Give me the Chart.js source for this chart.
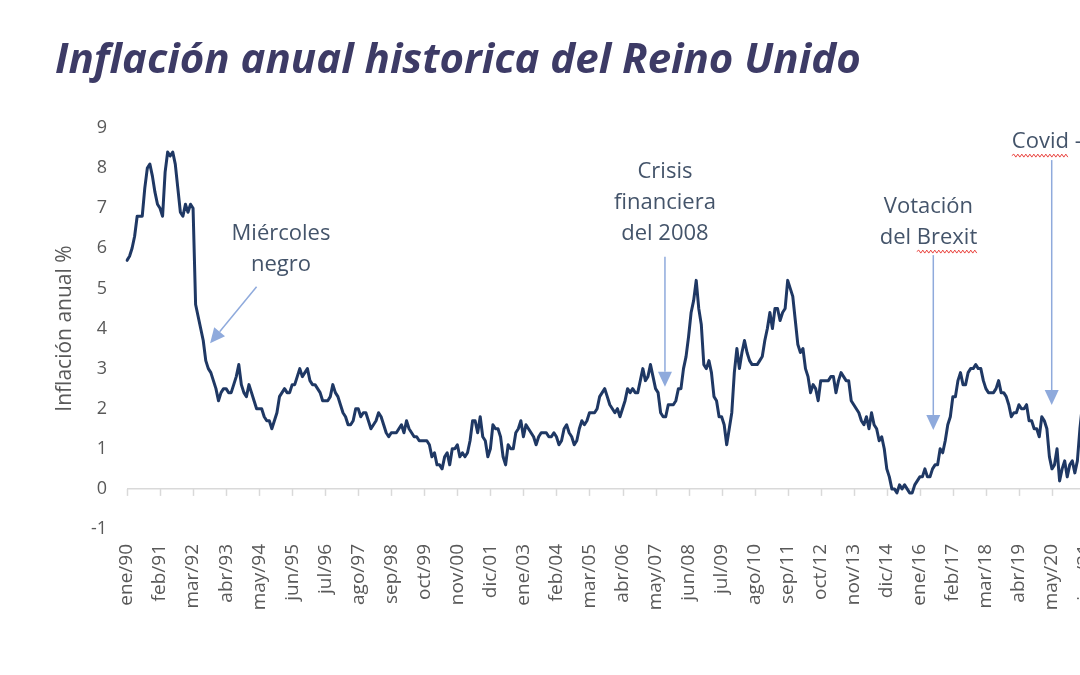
<!DOCTYPE html>
<html>
<head>
<meta charset="utf-8">
<script src="https://cdn.jsdelivr.net/npm/chart.js@4.4.1/dist/chart.umd.min.js"></script>
<style>
  html, body { margin: 0; padding: 0; background: #fff; overflow: hidden; width: 1080px; height: 675px; }
  #wrap { width: 1135px; height: 675px; }
</style>
</head>
<body>
<div id="wrap"><canvas id="grafico" width="1135" height="675"></canvas></div>
<script>
// ================= DATOS =================
// Inflación anual (IPC Reino Unido, %), mensual desde ene/90
const MESES = ['ene','feb','mar','abr','may','jun','jul','ago','sep','oct','nov','dic'];
const ANIO_INICIO = 1990;

const CPI_1990S = [
  5.7, 5.8, 6.0, 6.3, 6.8, 6.8, 6.8, 7.5, 8.0, 8.1, 7.8, 7.4,
  7.1, 7.0, 6.8, 7.9, 8.4, 8.3, 8.4, 8.1, 7.5, 6.9, 6.8, 7.1,
  6.9, 7.1, 7.0, 4.6, 4.3, 4.0, 3.7, 3.2, 3.0, 2.9, 2.7, 2.5,
  2.2, 2.4, 2.5, 2.5, 2.4, 2.4, 2.6, 2.8, 3.1, 2.6, 2.4, 2.3,
  2.6, 2.4, 2.2, 2.0, 2.0, 2.0, 1.8, 1.7, 1.7, 1.5, 1.7, 1.9,
  2.3, 2.4, 2.5, 2.4, 2.4, 2.6, 2.6, 2.8, 3.0, 2.8, 2.9, 3.0,
  2.7, 2.6, 2.6, 2.5, 2.4, 2.2, 2.2, 2.2, 2.3, 2.6, 2.4, 2.3,
  2.1, 1.9, 1.8, 1.6, 1.6, 1.7, 2.0, 2.0, 1.8, 1.9, 1.9, 1.7,
  1.5, 1.6, 1.7, 1.9, 1.8, 1.6, 1.4, 1.3, 1.4, 1.4, 1.4, 1.5,
  1.6, 1.4, 1.7, 1.5, 1.4, 1.3, 1.3, 1.2, 1.2, 1.2, 1.2, 1.1
];
const CPI_2000S = [
  0.8, 0.9, 0.6, 0.6, 0.5, 0.8, 0.9, 0.6, 1.0, 1.0, 1.1, 0.8,
  0.9, 0.8, 0.9, 1.2, 1.7, 1.7, 1.4, 1.8, 1.3, 1.2, 0.8, 1.0,
  1.6, 1.5, 1.5, 1.3, 0.8, 0.6, 1.1, 1.0, 1.0, 1.4, 1.5, 1.7,
  1.3, 1.6, 1.5, 1.4, 1.3, 1.1, 1.3, 1.4, 1.4, 1.4, 1.3, 1.3,
  1.4, 1.3, 1.1, 1.2, 1.5, 1.6, 1.4, 1.3, 1.1, 1.2, 1.5, 1.7,
  1.6, 1.7, 1.9, 1.9, 1.9, 2.0, 2.3, 2.4, 2.5, 2.3, 2.1, 2.0,
  1.9, 2.0, 1.8, 2.0, 2.2, 2.5, 2.4, 2.5, 2.4, 2.4, 2.7, 3.0,
  2.7, 2.8, 3.1, 2.8, 2.5, 2.4, 1.9, 1.8, 1.8, 2.1, 2.1, 2.1,
  2.2, 2.5, 2.5, 3.0, 3.3, 3.8, 4.4, 4.7, 5.2, 4.5, 4.1, 3.1,
  3.0, 3.2, 2.9, 2.3, 2.2, 1.8, 1.8, 1.6, 1.1, 1.5, 1.9, 2.9
];
const CPI_2010S = [
  3.5, 3.0, 3.4, 3.7, 3.4, 3.2, 3.1, 3.1, 3.1, 3.2, 3.3, 3.7,
  4.0, 4.4, 4.0, 4.5, 4.5, 4.2, 4.4, 4.5, 5.2, 5.0, 4.8, 4.2,
  3.6, 3.4, 3.5, 3.0, 2.8, 2.4, 2.6, 2.5, 2.2, 2.7, 2.7, 2.7,
  2.7, 2.8, 2.8, 2.4, 2.7, 2.9, 2.8, 2.7, 2.7, 2.2, 2.1, 2.0,
  1.9, 1.7, 1.6, 1.8, 1.5, 1.9, 1.6, 1.5, 1.2, 1.3, 1.0, 0.5,
  0.3, 0.0, 0.0, -0.1, 0.1, 0.0, 0.1, 0.0, -0.1, -0.1, 0.1, 0.2,
  0.3, 0.3, 0.5, 0.3, 0.3, 0.5, 0.6, 0.6, 1.0, 0.9, 1.2, 1.6,
  1.8, 2.3, 2.3, 2.7, 2.9, 2.6, 2.6, 2.9, 3.0, 3.0, 3.1, 3.0,
  3.0, 2.7, 2.5, 2.4, 2.4, 2.4, 2.5, 2.7, 2.4, 2.4, 2.3, 2.1,
  1.8, 1.9, 1.9, 2.1, 2.0, 2.0, 2.1, 1.7, 1.7, 1.5, 1.5, 1.3
];
const CPI_2020S = [
  1.8, 1.7, 1.5, 0.8, 0.5, 0.6, 1.0, 0.2, 0.5, 0.7, 0.3, 0.6,
  0.7, 0.4, 0.7, 1.5, 2.1, 2.5
];

const inflacion = [...CPI_1990S, ...CPI_2000S, ...CPI_2010S, ...CPI_2020S];

// etiquetas mensuales "ene/90", "feb/90", ...
const etiquetas = inflacion.map((_, i) => {
  const anio = (ANIO_INICIO + Math.floor(i / 12)) % 100;
  return MESES[i % 12] + '/' + String(anio).padStart(2, '0');
});
const SALTO_ETIQUETA = 13; // Excel muestra una etiqueta cada 13 meses

// Anotaciones: posiciones en coordenadas de datos (índice de mes, valor %)
const NOTAS = [
  { lineas: ['Miércoles', 'negro'], x: 60.6, y: 6.36, flecha: [[51.0, 5.04], [32.7, 3.63]] },
  { lineas: ['Crisis', 'financiera', 'del 2008'], x: 211.7, y: 7.91, flecha: [[211.7, 5.79], [211.7, 2.55]] },
  { lineas: ['Votación', 'del Brexit'], x: 315.4, y: 7.04, flecha: [[317.3, 5.83], [317.3, 1.47]], subrayar: 'Brexit' },
  { lineas: ['Covid - 19'], x: 348.2, y: 8.66, alinear: 'left', flecha: [[363.9, 8.20], [363.9, 2.09]], subrayar: 'Covid' }
];

// ================= ESTILOS =================
const FUENTE = '"Open Sans", Lato, sans-serif';
const GRIS = '#595959';
const AZUL_LINEA = '#1f3864';
const AZUL_FLECHA = '#8faadc';
const COLOR_NOTA = '#44546a';

// ================= PLUGINS =================
// marcas pequeñas del eje X sobre la línea del cero
const marcasEje = {
  id: 'marcasEje',
  beforeDatasetsDraw(chart) {
    const { ctx, scales: { x, y } } = chart;
    const y0 = y.getPixelForValue(0);
    ctx.save();
    ctx.strokeStyle = '#d9d9d9';
    ctx.lineWidth = 1.5;
    for (let i = 0; i < inflacion.length; i += SALTO_ETIQUETA) {
      const px = Math.round(x.getPixelForValue(i)) + 0.5;
      ctx.beginPath();
      ctx.moveTo(px, y0);
      ctx.lineTo(px, y0 + 7);
      ctx.stroke();
    }
    ctx.restore();
  }
};

function ondulado(ctx, x1, x2, yy) {
  ctx.beginPath();
  let arriba = true;
  ctx.moveTo(x1, yy);
  for (let px = x1 + 2; px <= x2; px += 2) {
    ctx.lineTo(px, arriba ? yy - 1.5 : yy + 1.5);
    arriba = !arriba;
  }
  ctx.stroke();
}

const anotaciones = {
  id: 'anotaciones',
  afterDatasetsDraw(chart) {
    const { ctx, scales: { x, y } } = chart;
    ctx.save();
    NOTAS.forEach(n => {
      // flecha
      const [[ax1, ay1], [ax2, ay2]] = n.flecha;
      const x1 = x.getPixelForValue(ax1), y1 = y.getPixelForValue(ay1);
      const x2 = x.getPixelForValue(ax2), y2 = y.getPixelForValue(ay2);
      const ang = Math.atan2(y2 - y1, x2 - x1);
      const largo = 15, ancho = 7;
      const bx = x2 - largo * Math.cos(ang), by = y2 - largo * Math.sin(ang);
      ctx.strokeStyle = AZUL_FLECHA;
      ctx.fillStyle = AZUL_FLECHA;
      ctx.lineWidth = 1.5;
      ctx.beginPath();
      ctx.moveTo(x1, y1);
      ctx.lineTo(bx, by);
      ctx.stroke();
      ctx.beginPath();
      ctx.moveTo(x2, y2);
      ctx.lineTo(bx + ancho * Math.sin(ang), by - ancho * Math.cos(ang));
      ctx.lineTo(bx - ancho * Math.sin(ang), by + ancho * Math.cos(ang));
      ctx.closePath();
      ctx.fill();

      // texto
      ctx.font = '22px ' + FUENTE;
      ctx.textBaseline = 'middle';
      ctx.textAlign = 'left';
      const cx = x.getPixelForValue(n.x);
      const cy = y.getPixelForValue(n.y);
      n.lineas.forEach((t, k) => {
        const ty = cy + k * 31;
        const w = ctx.measureText(t).width;
        const izq = n.alinear === 'left' ? cx : cx - w / 2;
        ctx.fillStyle = COLOR_NOTA;
        ctx.fillText(t, izq, ty);
        if (n.subrayar && t.indexOf(n.subrayar) >= 0) {
          const desde = izq + ctx.measureText(t.slice(0, t.indexOf(n.subrayar))).width;
          const hasta = desde + ctx.measureText(n.subrayar).width;
          ctx.strokeStyle = '#e8413c';
          ctx.lineWidth = 1;
          ondulado(ctx, desde, hasta, ty + 14);
        }
      });
    });
    ctx.restore();
  }
};

// ================= GRÁFICO =================
const ctx = document.getElementById('grafico').getContext('2d');
new Chart(ctx, {
  type: 'line',
  data: {
    labels: etiquetas,
    datasets: [{
      label: 'Inflación anual %',
      data: inflacion,
      borderColor: AZUL_LINEA,
      borderWidth: 3,
      borderJoinStyle: 'round',
      borderCapStyle: 'round',
      pointRadius: 0,
      tension: 0,
      fill: false
    }]
  },
  options: {
    responsive: false,
    animation: false,
    layout: { padding: { left: 55, right: 50, top: 0, bottom: 0 } },
    plugins: {
      legend: { display: false },
      tooltip: { enabled: false },
      title: {
        display: true,
        text: 'Inflación anual historica del Reino Unido',
        align: 'start',
        color: '#3d3b66',
        font: { family: FUENTE, size: 42, weight: 'bold', style: 'italic', lineHeight: 1.2 },
        padding: { top: 36, bottom: 41.6 }
      }
    },
    scales: {
      x: {
        grid: { display: false, drawTicks: false, tickLength: 0 },
        border: { display: false },
        ticks: {
          autoSkip: false,
          minRotation: 90,
          maxRotation: 90,
          padding: 15,
          color: GRIS,
          font: { family: FUENTE, size: 19 },
          callback: function (val, i) {
            return i % SALTO_ETIQUETA === 0 ? this.getLabelForValue(val) : null;
          }
        },
        afterFit: s => { s.height = 146; }
      },
      y: {
        min: -1,
        max: 9,
        ticks: {
          stepSize: 1,
          padding: 20,
          color: GRIS,
          font: { family: FUENTE, size: 18 }
        },
        grid: {
          drawTicks: false,
          lineWidth: 1.5,
          color: c => c.tick && c.tick.value === 0 ? '#d9d9d9' : 'rgba(0,0,0,0)'
        },
        border: { display: false },
        title: {
          display: true,
          text: 'Inflación anual %',
          color: GRIS,
          font: { family: FUENTE, size: 21 },
          padding: { top: -3, bottom: 0 }
        },
        afterFit: s => { s.width = 72; }
      }
    }
  },
  plugins: [marcasEje, anotaciones]
});
</script>
</body>
</html>
